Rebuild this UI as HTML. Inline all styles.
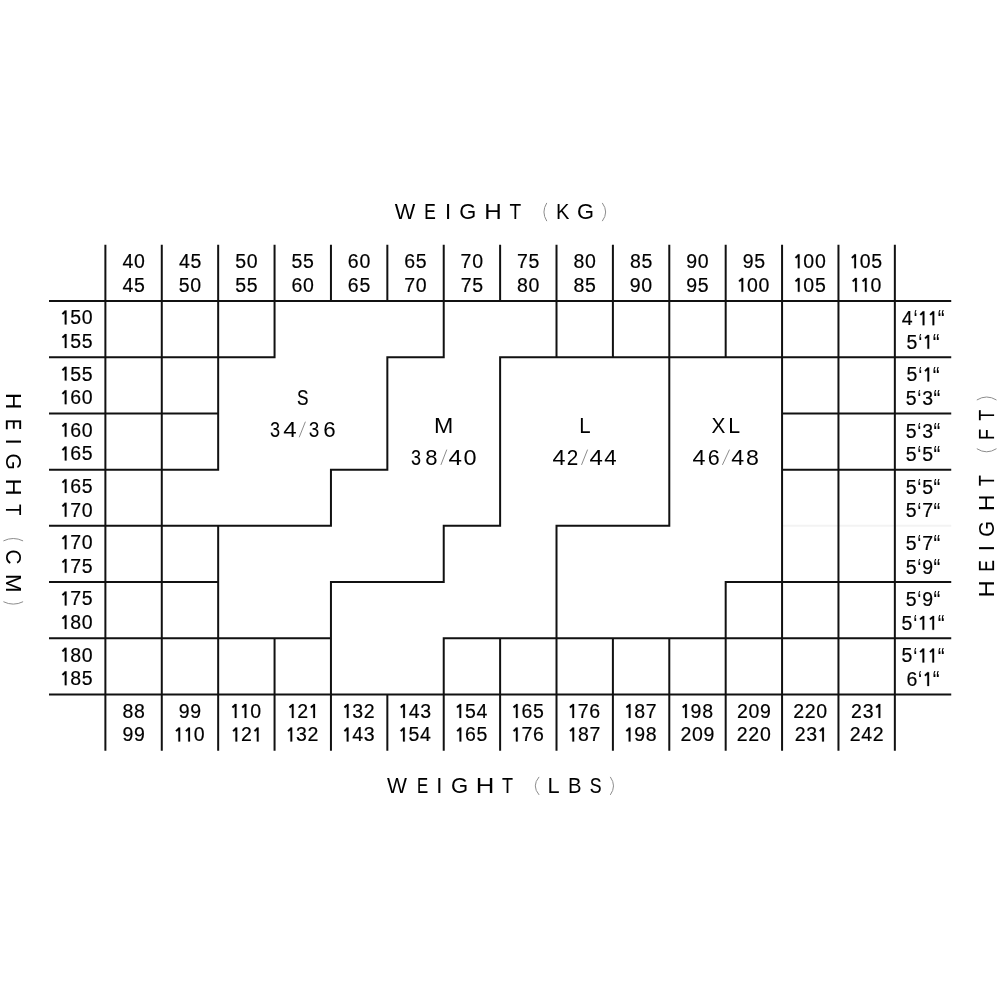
<!DOCTYPE html>
<html><head><meta charset="utf-8"><style>
html,body{margin:0;padding:0;background:#fff;}
body{width:1000px;height:1000px;overflow:hidden;}
svg{display:block;will-change:transform;}
text{font-family:"Liberation Sans",sans-serif;fill:#000;text-anchor:middle;}
.g{stroke:#000;stroke-width:0.35px;}
.n{stroke:#000;stroke-width:0.2px;text-anchor:start;}
.q{text-anchor:start;}
.one{fill:#000;stroke:#000;stroke-width:0.2px;}
</style></head><body>
<svg width="1000" height="1000" viewBox="0 0 1000 1000">
<g><path fill="#f3f3f3" d="M893.85,524.85h57.39v2h-57.39zM781.07,524.85h58.39v2h-58.39zM837.46,524.85h58.39v2h-58.39z"/>
<path fill="#111" d="M104.39,244.8h2v505.89h-2zM893.85,244.8h2v505.89h-2zM160.78,244.8h2v57.21h-2zM160.78,693.48h2v57.21h-2zM217.17,244.8h2v57.21h-2zM217.17,693.48h2v57.21h-2zM273.56,244.8h2v57.21h-2zM273.56,693.48h2v57.21h-2zM329.95,244.8h2v57.21h-2zM329.95,693.48h2v57.21h-2zM386.34,244.8h2v57.21h-2zM386.34,693.48h2v57.21h-2zM442.73,244.8h2v57.21h-2zM442.73,693.48h2v57.21h-2zM499.12,244.8h2v57.21h-2zM499.12,693.48h2v57.21h-2zM555.51,244.8h2v57.21h-2zM555.51,693.48h2v57.21h-2zM611.9,244.8h2v57.21h-2zM611.9,693.48h2v57.21h-2zM668.29,244.8h2v57.21h-2zM668.29,693.48h2v57.21h-2zM724.68,244.8h2v57.21h-2zM724.68,693.48h2v57.21h-2zM781.07,244.8h2v57.21h-2zM781.07,693.48h2v57.21h-2zM837.46,244.8h2v57.21h-2zM837.46,693.48h2v57.21h-2zM49,300.01h902.24v2h-902.24zM49,693.48h902.24v2h-902.24zM49,356.22h57.39v2h-57.39zM893.85,356.22h57.39v2h-57.39zM49,412.43h57.39v2h-57.39zM893.85,412.43h57.39v2h-57.39zM49,468.64h57.39v2h-57.39zM893.85,468.64h57.39v2h-57.39zM49,524.85h57.39v2h-57.39zM49,581.06h57.39v2h-57.39zM893.85,581.06h57.39v2h-57.39zM49,637.27h57.39v2h-57.39zM893.85,637.27h57.39v2h-57.39zM160.78,300.01h2v58.21h-2zM217.17,300.01h2v58.21h-2zM273.56,300.01h2v58.21h-2zM442.73,300.01h2v58.21h-2zM555.51,300.01h2v58.21h-2zM611.9,300.01h2v58.21h-2zM668.29,300.01h2v58.21h-2zM724.68,300.01h2v58.21h-2zM781.07,300.01h2v58.21h-2zM837.46,300.01h2v58.21h-2zM160.78,356.22h2v58.21h-2zM217.17,356.22h2v58.21h-2zM386.34,356.22h2v58.21h-2zM499.12,356.22h2v58.21h-2zM668.29,356.22h2v58.21h-2zM781.07,356.22h2v58.21h-2zM837.46,356.22h2v58.21h-2zM160.78,412.43h2v58.21h-2zM217.17,412.43h2v58.21h-2zM386.34,412.43h2v58.21h-2zM499.12,412.43h2v58.21h-2zM668.29,412.43h2v58.21h-2zM781.07,412.43h2v58.21h-2zM837.46,412.43h2v58.21h-2zM160.78,468.64h2v58.21h-2zM329.95,468.64h2v58.21h-2zM499.12,468.64h2v58.21h-2zM668.29,468.64h2v58.21h-2zM781.07,468.64h2v58.21h-2zM837.46,468.64h2v58.21h-2zM160.78,524.85h2v58.21h-2zM217.17,524.85h2v58.21h-2zM442.73,524.85h2v58.21h-2zM555.51,524.85h2v58.21h-2zM781.07,524.85h2v58.21h-2zM837.46,524.85h2v58.21h-2zM160.78,581.06h2v58.21h-2zM217.17,581.06h2v58.21h-2zM329.95,581.06h2v58.21h-2zM555.51,581.06h2v58.21h-2zM724.68,581.06h2v58.21h-2zM781.07,581.06h2v58.21h-2zM837.46,581.06h2v58.21h-2zM160.78,637.27h2v58.21h-2zM217.17,637.27h2v58.21h-2zM273.56,637.27h2v58.21h-2zM329.95,637.27h2v58.21h-2zM442.73,637.27h2v58.21h-2zM499.12,637.27h2v58.21h-2zM555.51,637.27h2v58.21h-2zM611.9,637.27h2v58.21h-2zM668.29,637.27h2v58.21h-2zM724.68,637.27h2v58.21h-2zM781.07,637.27h2v58.21h-2zM837.46,637.27h2v58.21h-2zM104.39,356.22h58.39v2h-58.39zM160.78,356.22h58.39v2h-58.39zM217.17,356.22h58.39v2h-58.39zM386.34,356.22h58.39v2h-58.39zM499.12,356.22h58.39v2h-58.39zM555.51,356.22h58.39v2h-58.39zM611.9,356.22h58.39v2h-58.39zM668.29,356.22h58.39v2h-58.39zM724.68,356.22h58.39v2h-58.39zM781.07,356.22h58.39v2h-58.39zM837.46,356.22h58.39v2h-58.39zM104.39,412.43h58.39v2h-58.39zM160.78,412.43h58.39v2h-58.39zM781.07,412.43h58.39v2h-58.39zM837.46,412.43h58.39v2h-58.39zM104.39,468.64h58.39v2h-58.39zM160.78,468.64h58.39v2h-58.39zM329.95,468.64h58.39v2h-58.39zM781.07,468.64h58.39v2h-58.39zM837.46,468.64h58.39v2h-58.39zM104.39,524.85h58.39v2h-58.39zM160.78,524.85h58.39v2h-58.39zM217.17,524.85h58.39v2h-58.39zM273.56,524.85h58.39v2h-58.39zM442.73,524.85h58.39v2h-58.39zM555.51,524.85h58.39v2h-58.39zM611.9,524.85h58.39v2h-58.39zM104.39,581.06h58.39v2h-58.39zM160.78,581.06h58.39v2h-58.39zM329.95,581.06h58.39v2h-58.39zM386.34,581.06h58.39v2h-58.39zM724.68,581.06h58.39v2h-58.39zM781.07,581.06h58.39v2h-58.39zM837.46,581.06h58.39v2h-58.39zM104.39,637.27h58.39v2h-58.39zM160.78,637.27h58.39v2h-58.39zM217.17,637.27h58.39v2h-58.39zM273.56,637.27h58.39v2h-58.39zM442.73,637.27h58.39v2h-58.39zM499.12,637.27h58.39v2h-58.39zM555.51,637.27h58.39v2h-58.39zM611.9,637.27h58.39v2h-58.39zM668.29,637.27h58.39v2h-58.39zM724.68,637.27h58.39v2h-58.39zM781.07,637.27h58.39v2h-58.39zM837.46,637.27h58.39v2h-58.39z"/></g>
<g><text class="n" x="122.55 134.09" y="268.2" font-size="19.5">&#52;&#48;</text>
<text class="n" x="122.58 134.12" y="291.8" font-size="19.5">&#52;&#53;</text>
<text class="n" x="122.39 133.94" y="717.88" font-size="19.5">&#56;&#56;</text>
<text class="n" x="122.39 133.94" y="741.48" font-size="19.5">&#57;&#57;</text>
<text class="n" x="178.97 190.51" y="268.2" font-size="19.5">&#52;&#53;</text>
<text class="n" x="178.77 190.32" y="291.8" font-size="19.5">&#53;&#48;</text>
<text class="n" x="178.78 190.33" y="717.88" font-size="19.5">&#57;&#57;</text>
<text class="n" x="193.75" y="741.48" font-size="19.5">&#48;</text>
<text class="n" x="235.16 246.71" y="268.2" font-size="19.5">&#53;&#48;</text>
<text class="n" x="235.19 246.73" y="291.8" font-size="19.5">&#53;&#53;</text>
<text class="n" x="250.14" y="717.88" font-size="19.5">&#48;</text>
<text class="n" x="240.97" y="741.48" font-size="19.5">&#50;</text>
<text class="n" x="291.58 303.12" y="268.2" font-size="19.5">&#53;&#53;</text>
<text class="n" x="291.45 302.99" y="291.8" font-size="19.5">&#54;&#48;</text>
<text class="n" x="297.36" y="717.88" font-size="19.5">&#50;</text>
<text class="n" x="295.94 307.48" y="741.48" font-size="19.5">&#51;&#50;</text>
<text class="n" x="347.84 359.38" y="268.2" font-size="19.5">&#54;&#48;</text>
<text class="n" x="347.86 359.41" y="291.8" font-size="19.5">&#54;&#53;</text>
<text class="n" x="352.33 363.87" y="717.88" font-size="19.5">&#51;&#50;</text>
<text class="n" x="352.27 363.81" y="741.48" font-size="19.5">&#52;&#51;</text>
<text class="n" x="404.25 415.8" y="268.2" font-size="19.5">&#54;&#53;</text>
<text class="n" x="404.22 415.77" y="291.8" font-size="19.5">&#55;&#48;</text>
<text class="n" x="408.66 420.2" y="717.88" font-size="19.5">&#52;&#51;</text>
<text class="n" x="408.51 420.06" y="741.48" font-size="19.5">&#53;&#52;</text>
<text class="n" x="460.61 472.16" y="268.2" font-size="19.5">&#55;&#48;</text>
<text class="n" x="460.64 472.18" y="291.8" font-size="19.5">&#55;&#53;</text>
<text class="n" x="464.9 476.45" y="717.88" font-size="19.5">&#53;&#52;</text>
<text class="n" x="465.03 476.57" y="741.48" font-size="19.5">&#54;&#53;</text>
<text class="n" x="517.03 528.57" y="268.2" font-size="19.5">&#55;&#53;</text>
<text class="n" x="517.08 528.62" y="291.8" font-size="19.5">&#56;&#48;</text>
<text class="n" x="521.42 532.96" y="717.88" font-size="19.5">&#54;&#53;</text>
<text class="n" x="521.44 532.98" y="741.48" font-size="19.5">&#55;&#54;</text>
<text class="n" x="573.47 585.01" y="268.2" font-size="19.5">&#56;&#48;</text>
<text class="n" x="573.5 585.04" y="291.8" font-size="19.5">&#56;&#53;</text>
<text class="n" x="577.83 589.37" y="717.88" font-size="19.5">&#55;&#54;</text>
<text class="n" x="577.89 589.43" y="741.48" font-size="19.5">&#56;&#55;</text>
<text class="n" x="629.89 641.43" y="268.2" font-size="19.5">&#56;&#53;</text>
<text class="n" x="629.82 641.37" y="291.8" font-size="19.5">&#57;&#48;</text>
<text class="n" x="634.28 645.82" y="717.88" font-size="19.5">&#56;&#55;</text>
<text class="n" x="634.21 645.76" y="741.48" font-size="19.5">&#57;&#56;</text>
<text class="n" x="686.21 697.76" y="268.2" font-size="19.5">&#57;&#48;</text>
<text class="n" x="686.24 697.79" y="291.8" font-size="19.5">&#57;&#53;</text>
<text class="n" x="690.6 702.15" y="717.88" font-size="19.5">&#57;&#56;</text>
<text class="n" x="680.49 692.03 703.58" y="741.48" font-size="19.5">&#50;&#48;&#57;</text>
<text class="n" x="742.63 754.18" y="268.2" font-size="19.5">&#57;&#53;</text>
<text class="n" x="746.95 758.49" y="291.8" font-size="19.5">&#48;&#48;</text>
<text class="n" x="736.88 748.42 759.97" y="717.88" font-size="19.5">&#50;&#48;&#57;</text>
<text class="n" x="736.8 748.34 759.89" y="741.48" font-size="19.5">&#50;&#50;&#48;</text>
<text class="n" x="803.34 814.88" y="268.2" font-size="19.5">&#48;&#48;</text>
<text class="n" x="803.37 814.91" y="291.8" font-size="19.5">&#48;&#53;</text>
<text class="n" x="793.19 804.73 816.28" y="717.88" font-size="19.5">&#50;&#50;&#48;</text>
<text class="n" x="794.72 806.26" y="741.48" font-size="19.5">&#50;&#51;</text>
<text class="n" x="859.76 871.3" y="268.2" font-size="19.5">&#48;&#53;</text>
<text class="n" x="870.43" y="291.8" font-size="19.5">&#48;</text>
<text class="n" x="851.11 862.65" y="717.88" font-size="19.5">&#50;&#51;</text>
<text class="n" x="849.69 861.23 872.78" y="741.48" font-size="19.5">&#50;&#52;&#50;</text>
<text class="n" x="70.27 81.81" y="324.41" font-size="19.5">&#53;&#48;</text>
<text class="n" x="70.3 81.84" y="348.01" font-size="19.5">&#53;&#53;</text>
<text class="q" transform="translate(915.44,313.83) scale(0.95,1.38) translate(-2.17,11.24)" font-size="19.5">&#8216;</text>
<text class="q" transform="translate(941.25,313.83) scale(1.05,1.38) translate(-3.25,11.24)" font-size="19.5">&#8220;</text>
<text class="n" x="901.73" y="325.21" font-size="19.5">&#52;</text>
<text class="q" transform="translate(920.2,337.44) scale(0.95,1.38) translate(-2.17,11.24)" font-size="19.5">&#8216;</text>
<text class="q" transform="translate(936.16,337.44) scale(1.05,1.38) translate(-3.25,11.24)" font-size="19.5">&#8220;</text>
<text class="n" x="906.49" y="348.81" font-size="19.5">&#53;</text>
<text class="n" x="70.3 81.84" y="380.62" font-size="19.5">&#53;&#53;</text>
<text class="n" x="70.27 81.81" y="404.22" font-size="19.5">&#54;&#48;</text>
<text class="q" transform="translate(920.2,370.05) scale(0.95,1.38) translate(-2.17,11.24)" font-size="19.5">&#8216;</text>
<text class="q" transform="translate(936.16,370.05) scale(1.05,1.38) translate(-3.25,11.24)" font-size="19.5">&#8220;</text>
<text class="n" x="906.49" y="381.42" font-size="19.5">&#53;</text>
<text class="q" transform="translate(919.35,393.65) scale(0.95,1.38) translate(-2.17,11.24)" font-size="19.5">&#8216;</text>
<text class="q" transform="translate(937.01,393.65) scale(1.05,1.38) translate(-3.25,11.24)" font-size="19.5">&#8220;</text>
<text class="n" x="905.64 922.22" y="405.02" font-size="19.5">&#53;&#51;</text>
<text class="n" x="70.27 81.81" y="436.83" font-size="19.5">&#54;&#48;</text>
<text class="n" x="70.3 81.84" y="460.43" font-size="19.5">&#54;&#53;</text>
<text class="q" transform="translate(919.35,426.25) scale(0.95,1.38) translate(-2.17,11.24)" font-size="19.5">&#8216;</text>
<text class="q" transform="translate(937.01,426.25) scale(1.05,1.38) translate(-3.25,11.24)" font-size="19.5">&#8220;</text>
<text class="n" x="905.64 922.22" y="437.63" font-size="19.5">&#53;&#51;</text>
<text class="q" transform="translate(919.35,449.86) scale(0.95,1.38) translate(-2.17,11.24)" font-size="19.5">&#8216;</text>
<text class="q" transform="translate(937.01,449.86) scale(1.05,1.38) translate(-3.25,11.24)" font-size="19.5">&#8220;</text>
<text class="n" x="905.64 922.22" y="461.23" font-size="19.5">&#53;&#53;</text>
<text class="n" x="70.3 81.84" y="493.04" font-size="19.5">&#54;&#53;</text>
<text class="n" x="70.27 81.81" y="516.64" font-size="19.5">&#55;&#48;</text>
<text class="q" transform="translate(919.35,482.46) scale(0.95,1.38) translate(-2.17,11.24)" font-size="19.5">&#8216;</text>
<text class="q" transform="translate(937.01,482.46) scale(1.05,1.38) translate(-3.25,11.24)" font-size="19.5">&#8220;</text>
<text class="n" x="905.64 922.22" y="493.84" font-size="19.5">&#53;&#53;</text>
<text class="q" transform="translate(919.35,506.06) scale(0.95,1.38) translate(-2.17,11.24)" font-size="19.5">&#8216;</text>
<text class="q" transform="translate(937.01,506.06) scale(1.05,1.38) translate(-3.25,11.24)" font-size="19.5">&#8220;</text>
<text class="n" x="905.64 922.22" y="517.44" font-size="19.5">&#53;&#55;</text>
<text class="n" x="70.27 81.81" y="549.25" font-size="19.5">&#55;&#48;</text>
<text class="n" x="70.3 81.84" y="572.85" font-size="19.5">&#55;&#53;</text>
<text class="q" transform="translate(919.35,538.67) scale(0.95,1.38) translate(-2.17,11.24)" font-size="19.5">&#8216;</text>
<text class="q" transform="translate(937.01,538.67) scale(1.05,1.38) translate(-3.25,11.24)" font-size="19.5">&#8220;</text>
<text class="n" x="905.64 922.22" y="550.05" font-size="19.5">&#53;&#55;</text>
<text class="q" transform="translate(919.35,562.27) scale(0.95,1.38) translate(-2.17,11.24)" font-size="19.5">&#8216;</text>
<text class="q" transform="translate(937.01,562.27) scale(1.05,1.38) translate(-3.25,11.24)" font-size="19.5">&#8220;</text>
<text class="n" x="905.64 922.22" y="573.65" font-size="19.5">&#53;&#57;</text>
<text class="n" x="70.3 81.84" y="605.46" font-size="19.5">&#55;&#53;</text>
<text class="n" x="70.27 81.81" y="629.06" font-size="19.5">&#56;&#48;</text>
<text class="q" transform="translate(919.35,594.88) scale(0.95,1.38) translate(-2.17,11.24)" font-size="19.5">&#8216;</text>
<text class="q" transform="translate(937.01,594.88) scale(1.05,1.38) translate(-3.25,11.24)" font-size="19.5">&#8220;</text>
<text class="n" x="905.64 922.22" y="606.26" font-size="19.5">&#53;&#57;</text>
<text class="q" transform="translate(915.27,618.48) scale(0.95,1.38) translate(-2.17,11.24)" font-size="19.5">&#8216;</text>
<text class="q" transform="translate(941.09,618.48) scale(1.05,1.38) translate(-3.25,11.24)" font-size="19.5">&#8220;</text>
<text class="n" x="901.56" y="629.86" font-size="19.5">&#53;</text>
<text class="n" x="70.27 81.81" y="661.67" font-size="19.5">&#56;&#48;</text>
<text class="n" x="70.3 81.84" y="685.27" font-size="19.5">&#56;&#53;</text>
<text class="q" transform="translate(915.27,651.09) scale(0.95,1.38) translate(-2.17,11.24)" font-size="19.5">&#8216;</text>
<text class="q" transform="translate(941.09,651.09) scale(1.05,1.38) translate(-3.25,11.24)" font-size="19.5">&#8220;</text>
<text class="n" x="901.56" y="662.47" font-size="19.5">&#53;</text>
<text class="q" transform="translate(920.09,674.69) scale(0.95,1.38) translate(-2.17,11.24)" font-size="19.5">&#8216;</text>
<text class="q" transform="translate(936.06,674.69) scale(1.05,1.38) translate(-3.25,11.24)" font-size="19.5">&#8220;</text>
<text class="n" x="906.38" y="686.07" font-size="19.5">&#54;</text>
<text transform="translate(405.11,219) scale(0.984,1)" font-size="22.1">W</text>
<text transform="translate(430.09,219) scale(0.781,1)" font-size="22.1" stroke="#000" stroke-width="0.18">E</text>
<text transform="translate(448.02,219) scale(1.000,1)" font-size="22.1">I</text>
<text transform="translate(467.82,219) scale(0.991,1)" font-size="22.1">G</text>
<text transform="translate(492.94,219) scale(1.094,1)" font-size="22.1">H</text>
<text transform="translate(515.3,219) scale(0.864,1)" font-size="22.1">T</text>
<text transform="translate(562.81,219) scale(0.911,1)" font-size="22.1">K</text>
<text transform="translate(585.52,219) scale(0.991,1)" font-size="22.1">G</text>
<path d="M546.8,202.9 Q541.1,212.03 546.8,221.15" fill="none" stroke="#8c8c8c" stroke-width="1"/>
<path d="M602.25,202.9 Q609.05,212.03 602.25,221.15" fill="none" stroke="#8c8c8c" stroke-width="1"/>
<text transform="translate(397.09,792.8) scale(0.957,1)" font-size="22.1">W</text>
<text transform="translate(422.58,792.8) scale(0.751,1)" font-size="22.1" stroke="#000" stroke-width="0.24">E</text>
<text transform="translate(439.4,792.8) scale(1.000,1)" font-size="22.1">I</text>
<text transform="translate(459.47,792.8) scale(0.998,1)" font-size="22.1">G</text>
<text transform="translate(484.99,792.8) scale(1.166,1)" font-size="22.1">H</text>
<text transform="translate(507.5,792.8) scale(0.816,1)" font-size="22.1" stroke="#000" stroke-width="0.11">T</text>
<text transform="translate(553.47,792.8) scale(0.985,1)" font-size="22.1">L</text>
<text transform="translate(574.7,792.8) scale(0.918,1)" font-size="22.1">B</text>
<text transform="translate(595.7,792.8) scale(0.802,1)" font-size="22.1" stroke="#000" stroke-width="0.14">S</text>
<path d="M539.1,776.9 Q531.5,785.9 539.1,794.9" fill="none" stroke="#8c8c8c" stroke-width="1"/>
<path d="M610.3,776.9 Q616.7,785.9 610.3,794.9" fill="none" stroke="#8c8c8c" stroke-width="1"/>
<text transform="translate(302.75,404.5) scale(0.775,1)" font-size="22.2" stroke="#000" stroke-width="0.19">S</text>
<text transform="translate(275.15,437) scale(0.817,1)" font-size="22.2" stroke="#000" stroke-width="0.10">3</text>
<text transform="translate(290.03,437) scale(1.082,1)" font-size="22.2">4</text>
<text transform="translate(314.06,437) scale(0.855,1)" font-size="22.2" stroke="#000" stroke-width="0.03">3</text>
<text transform="translate(329.47,437) scale(1.006,1)" font-size="22.2">6</text>
<line x1="299.2" y1="437.3" x2="305.4" y2="421.7" stroke="#8c8c8c" stroke-width="1"/>
<text transform="translate(443.75,433) scale(1.044,1)" font-size="22.2">M</text>
<text transform="translate(585,433) scale(0.919,1)" font-size="22.2">L</text>
<text transform="translate(718.48,433) scale(0.939,1)" font-size="22.2">X</text>
<text transform="translate(734.18,433) scale(0.960,1)" font-size="22.2">L</text>
<text transform="translate(416.03,464.9) scale(0.812,1)" font-size="22.2" stroke="#000" stroke-width="0.11">3</text>
<text transform="translate(431.27,464.9) scale(0.994,1)" font-size="22.2">8</text>
<text transform="translate(455.18,464.9) scale(1.091,1)" font-size="22.2">4</text>
<text transform="translate(469.98,464.9) scale(1.060,1)" font-size="22.2">0</text>
<text transform="translate(558.95,464.9) scale(1.050,1)" font-size="22.2">4</text>
<text transform="translate(572.62,464.9) scale(0.934,1)" font-size="22.2">2</text>
<text transform="translate(596.13,464.9) scale(1.082,1)" font-size="22.2">4</text>
<text transform="translate(610.47,464.9) scale(1.001,1)" font-size="22.2">4</text>
<text transform="translate(698.95,464.9) scale(1.050,1)" font-size="22.2">4</text>
<text transform="translate(713.68,464.9) scale(0.966,1)" font-size="22.2">6</text>
<text transform="translate(737.67,464.9) scale(1.046,1)" font-size="22.2">4</text>
<text transform="translate(752.42,464.9) scale(1.042,1)" font-size="22.2">8</text>
<line x1="440.9" y1="464.9" x2="446.8" y2="449.6" stroke="#8c8c8c" stroke-width="1"/>
<line x1="581.5" y1="464.9" x2="587.6" y2="449.6" stroke="#8c8c8c" stroke-width="1"/>
<line x1="722.4" y1="464.9" x2="729.5" y2="449.6" stroke="#8c8c8c" stroke-width="1"/>
<path d="M3.4,540.9 Q13.25,536.1 23.1,540.9" fill="none" stroke="#8c8c8c" stroke-width="1"/>
<path d="M3.4,601.7 Q13.25,606.5 23.1,601.7" fill="none" stroke="#8c8c8c" stroke-width="1"/>
<path d="M976.8,448.7 Q986.65,454.9 996.5,448.7" fill="none" stroke="#8c8c8c" stroke-width="1"/>
<path d="M976.8,400 Q986.65,394 996.5,400" fill="none" stroke="#8c8c8c" stroke-width="1"/></g>
<path class="one" d="M178.36,727.58L180.17,727.58L180.17,741.48L178.36,741.48ZM179.63,728.93L176.68,731.74L175.47,730.47L178.42,727.66ZM188.21,727.58L190.02,727.58L190.02,741.48L188.21,741.48ZM189.48,728.93L186.53,731.74L185.32,730.47L188.27,727.66ZM234.75,703.98L236.56,703.98L236.56,717.88L234.75,717.88ZM236.02,705.33L233.07,708.14L231.86,706.87L234.81,704.06ZM244.6,703.98L246.41,703.98L246.41,717.88L244.6,717.88ZM245.87,705.33L242.92,708.14L241.71,706.87L244.66,704.06ZM235.43,727.58L237.24,727.58L237.24,741.48L235.43,741.48ZM236.7,728.93L233.75,731.74L232.54,730.47L235.49,727.66ZM256.82,727.58L258.63,727.58L258.63,741.48L256.82,741.48ZM258.09,728.93L255.14,731.74L253.94,730.47L256.89,727.66ZM291.82,703.98L293.63,703.98L293.63,717.88L291.82,717.88ZM293.09,705.33L290.14,708.14L288.93,706.87L291.88,704.06ZM313.21,703.98L315.02,703.98L315.02,717.88L313.21,717.88ZM314.48,705.33L311.53,708.14L310.33,706.87L313.28,704.06ZM290.4,727.58L292.21,727.58L292.21,741.48L290.4,741.48ZM291.67,728.93L288.72,731.74L287.51,730.47L290.46,727.66ZM346.79,703.98L348.6,703.98L348.6,717.88L346.79,717.88ZM348.06,705.33L345.11,708.14L343.9,706.87L346.85,704.06ZM346.73,727.58L348.54,727.58L348.54,741.48L346.73,741.48ZM348,728.93L345.05,731.74L343.84,730.47L346.79,727.66ZM403.12,703.98L404.93,703.98L404.93,717.88L403.12,717.88ZM404.39,705.33L401.44,708.14L400.23,706.87L403.18,704.06ZM402.98,727.58L404.79,727.58L404.79,741.48L402.98,741.48ZM404.25,728.93L401.29,731.74L400.09,730.47L403.04,727.66ZM459.37,703.98L461.18,703.98L461.18,717.88L459.37,717.88ZM460.64,705.33L457.68,708.14L456.48,706.87L459.43,704.06ZM459.49,727.58L461.3,727.58L461.3,741.48L459.49,741.48ZM460.76,728.93L457.81,731.74L456.6,730.47L459.55,727.66ZM515.88,703.98L517.69,703.98L517.69,717.88L515.88,717.88ZM517.15,705.33L514.2,708.14L512.99,706.87L515.94,704.06ZM515.9,727.58L517.71,727.58L517.71,741.48L515.9,741.48ZM517.17,728.93L514.22,731.74L513.01,730.47L515.96,727.66ZM572.29,703.98L574.1,703.98L574.1,717.88L572.29,717.88ZM573.56,705.33L570.61,708.14L569.4,706.87L572.35,704.06ZM572.35,727.58L574.16,727.58L574.16,741.48L572.35,741.48ZM573.62,728.93L570.67,731.74L569.46,730.47L572.41,727.66ZM628.74,703.98L630.55,703.98L630.55,717.88L628.74,717.88ZM630.01,705.33L627.06,708.14L625.85,706.87L628.8,704.06ZM628.67,727.58L630.48,727.58L630.48,741.48L628.67,741.48ZM629.94,728.93L626.99,731.74L625.79,730.47L628.74,727.66ZM685.06,703.98L686.87,703.98L686.87,717.88L685.06,717.88ZM686.33,705.33L683.38,708.14L682.18,706.87L685.13,704.06ZM741.41,277.9L743.22,277.9L743.22,291.8L741.41,291.8ZM742.68,279.25L739.73,282.06L738.52,280.79L741.47,277.98ZM797.8,254.3L799.61,254.3L799.61,268.2L797.8,268.2ZM799.07,255.65L796.12,258.46L794.91,257.19L797.86,254.38ZM797.83,277.9L799.64,277.9L799.64,291.8L797.83,291.8ZM799.1,279.25L796.15,282.06L794.94,280.79L797.89,277.98ZM822.12,727.58L823.93,727.58L823.93,741.48L822.12,741.48ZM823.39,728.93L820.44,731.74L819.23,730.47L822.18,727.66ZM854.22,254.3L856.03,254.3L856.03,268.2L854.22,268.2ZM855.49,255.65L852.54,258.46L851.33,257.19L854.28,254.38ZM855.04,277.9L856.85,277.9L856.85,291.8L855.04,291.8ZM856.31,279.25L853.36,282.06L852.15,280.79L855.1,277.98ZM864.89,277.9L866.7,277.9L866.7,291.8L864.89,291.8ZM866.16,279.25L863.21,282.06L862,280.79L864.95,277.98ZM878.51,703.98L880.32,703.98L880.32,717.88L878.51,717.88ZM879.78,705.33L876.83,708.14L875.62,706.87L878.57,704.06ZM64.73,310.51L66.54,310.51L66.54,324.41L64.73,324.41ZM66,311.86L63.05,314.67L61.84,313.4L64.79,310.59ZM64.76,334.11L66.57,334.11L66.57,348.01L64.76,348.01ZM66.03,335.46L63.08,338.27L61.87,337L64.82,334.19ZM922.62,311.31L924.43,311.31L924.43,325.21L922.62,325.21ZM923.89,312.66L920.94,315.47L919.73,314.2L922.68,311.39ZM932.47,311.31L934.28,311.31L934.28,325.21L932.47,325.21ZM933.74,312.66L930.79,315.47L929.58,314.2L932.53,311.39ZM927.38,334.91L929.19,334.91L929.19,348.81L927.38,348.81ZM928.65,336.26L925.7,339.07L924.49,337.8L927.44,334.99ZM64.76,366.72L66.57,366.72L66.57,380.62L64.76,380.62ZM66.03,368.07L63.08,370.88L61.87,369.61L64.82,366.8ZM64.73,390.32L66.54,390.32L66.54,404.22L64.73,404.22ZM66,391.67L63.05,394.48L61.84,393.21L64.79,390.4ZM927.38,367.52L929.19,367.52L929.19,381.42L927.38,381.42ZM928.65,368.87L925.7,371.68L924.49,370.41L927.44,367.6ZM64.73,422.93L66.54,422.93L66.54,436.83L64.73,436.83ZM66,424.28L63.05,427.09L61.84,425.82L64.79,423.01ZM64.76,446.53L66.57,446.53L66.57,460.43L64.76,460.43ZM66.03,447.88L63.08,450.69L61.87,449.42L64.82,446.61ZM64.76,479.14L66.57,479.14L66.57,493.04L64.76,493.04ZM66.03,480.49L63.08,483.3L61.87,482.03L64.82,479.22ZM64.73,502.74L66.54,502.74L66.54,516.64L64.73,516.64ZM66,504.09L63.05,506.9L61.84,505.63L64.79,502.82ZM64.73,535.35L66.54,535.35L66.54,549.25L64.73,549.25ZM66,536.7L63.05,539.51L61.84,538.24L64.79,535.43ZM64.76,558.95L66.57,558.95L66.57,572.85L64.76,572.85ZM66.03,560.3L63.08,563.11L61.87,561.84L64.82,559.03ZM64.76,591.56L66.57,591.56L66.57,605.46L64.76,605.46ZM66.03,592.91L63.08,595.72L61.87,594.45L64.82,591.64ZM64.73,615.16L66.54,615.16L66.54,629.06L64.73,629.06ZM66,616.51L63.05,619.32L61.84,618.05L64.79,615.24ZM922.45,615.96L924.26,615.96L924.26,629.86L922.45,629.86ZM923.72,617.31L920.77,620.12L919.56,618.85L922.52,616.04ZM932.3,615.96L934.11,615.96L934.11,629.86L932.3,629.86ZM933.57,617.31L930.62,620.12L929.41,618.85L932.37,616.04ZM64.73,647.77L66.54,647.77L66.54,661.67L64.73,661.67ZM66,649.12L63.05,651.93L61.84,650.66L64.79,647.85ZM64.76,671.37L66.57,671.37L66.57,685.27L64.76,685.27ZM66.03,672.72L63.08,675.53L61.87,674.26L64.82,671.45ZM922.45,648.57L924.26,648.57L924.26,662.47L922.45,662.47ZM923.72,649.92L920.77,652.73L919.56,651.46L922.52,648.65ZM932.3,648.57L934.11,648.57L934.11,662.47L932.3,662.47ZM933.57,649.92L930.62,652.73L929.41,651.46L932.37,648.65ZM927.27,672.17L929.08,672.17L929.08,686.07L927.27,686.07ZM928.54,673.52L925.59,676.33L924.38,675.06L927.34,672.25Z"/>
<g transform="rotate(90)"><text transform="translate(401.09,-6.3) scale(1.007,1)" font-size="22.4">H</text>
<text transform="translate(424.64,-6.3) scale(0.717,1)" font-size="22.4" stroke="#000" stroke-width="0.29">E</text>
<text transform="translate(441.65,-6.3) scale(1.000,1)" font-size="22.4">I</text>
<text transform="translate(461.76,-6.3) scale(0.944,1)" font-size="22.4">G</text>
<text transform="translate(487.04,-6.3) scale(1.063,1)" font-size="22.4">H</text>
<text transform="translate(509.78,-6.3) scale(0.817,1)" font-size="22.4" stroke="#000" stroke-width="0.09">T</text>
<text transform="translate(557.07,-6.3) scale(0.930,1)" font-size="22.4">C</text>
<text transform="translate(583.35,-6.3) scale(0.994,1)" font-size="22.4">M</text></g>
<g transform="rotate(-90)"><text transform="translate(-588.83,994.15) scale(1.059,1)" font-size="22.4">H</text>
<text transform="translate(-565.88,994.15) scale(0.758,1)" font-size="22.4" stroke="#000" stroke-width="0.21">E</text>
<text transform="translate(-548.03,994.15) scale(1.000,1)" font-size="22.4">I</text>
<text transform="translate(-528.78,994.15) scale(0.906,1)" font-size="22.4">G</text>
<text transform="translate(-502.86,994.15) scale(1.015,1)" font-size="22.4">H</text>
<text transform="translate(-480.7,994.15) scale(0.774,1)" font-size="22.4" stroke="#000" stroke-width="0.18">T</text>
<text transform="translate(-434.52,994.15) scale(0.795,1)" font-size="22.4" stroke="#000" stroke-width="0.13">F</text>
<text transform="translate(-415.2,994.15) scale(0.774,1)" font-size="22.4" stroke="#000" stroke-width="0.18">T</text></g>
</svg>
</body></html>
